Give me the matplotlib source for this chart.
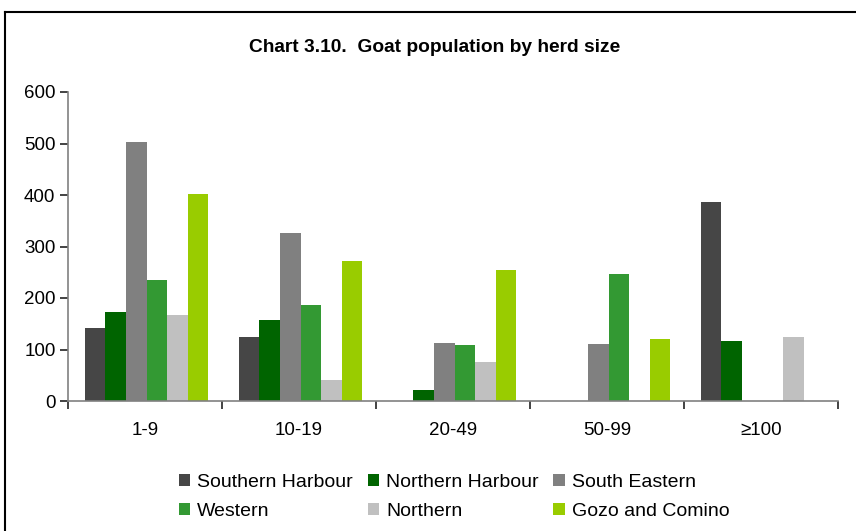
import matplotlib.pyplot as plt
from matplotlib.lines import Line2D
from matplotlib.patches import Patch
import numpy as np

plt.rcParams['font.family'] = ['Liberation Sans', 'DejaVu Sans']

categories = ['1-9', '10-19', '20-49', '50-99', '\u2265100']
regions = ['Southern Harbour', 'Northern Harbour', 'South Eastern',
           'Western', 'Northern', 'Gozo and Comino']
southern_harbour = [141, 124, 0, 0, 386]
northern_harbour = [172, 157, 21, 0, 116]
south_eastern = [503, 326, 112, 110, 0]
western = [235, 186, 108, 246, 0]
northern = [167, 40, 75, 0, 124]
gozo_comino = [402, 272, 254, 120, 0]

series = [southern_harbour, northern_harbour, south_eastern,
          western, northern, gozo_comino]
colors = ['#464646', '#006400', '#808080', '#339933', '#c0c0c0', '#99cc00']

fig = plt.figure(figsize=(8.56, 5.31), dpi=100)
ax = fig.add_axes([68 / 856, 1 - 401 / 531, 770 / 856, 309 / 531])

x = np.arange(len(categories))
w = 0.134
for i, (vals, c) in enumerate(zip(series, colors)):
    ax.bar(x + (i - 2.5) * w + 0.01, vals, width=w, color=c, label=regions[i])

ax.set_xlim(-0.5, len(categories) - 0.5)
ax.set_ylim(0, 600)
ax.set_yticks(range(0, 601, 100))
ax.set_xticks(x)
ax.set_xticklabels(categories)
ax.set_xticks(np.arange(-0.5, len(categories), 1), minor=True)
ax.tick_params(axis='x', which='major', length=0, pad=15, labelsize=13.5)
ax.tick_params(axis='x', which='minor', length=6, width=1.2, color='#222222')
ax.tick_params(axis='y', length=6, width=1.2, color='#222222', labelsize=13.5, pad=3)

for s in ['top', 'right']:
    ax.spines[s].set_visible(False)
for s in ['left', 'bottom']:
    ax.spines[s].set_color('#808080')
    ax.spines[s].set_linewidth(1.2)

fig.text(435 / 856, 1 - 47 / 531, 'Chart 3.10.  Goat population by herd size',
         ha='center', va='center', fontsize=13.8, fontweight='bold')

handles = [Patch(facecolor=c) for c in colors]
order = [0, 3, 1, 4, 2, 5]
fig.legend([handles[i] for i in order], [regions[i] for i in order],
           ncol=3, loc='center', bbox_to_anchor=(454 / 856, 1 - 497 / 531),
           frameon=False, fontsize=14, handlelength=0.6, handleheight=0.6,
           handletextpad=0.35, columnspacing=0.75, labelspacing=0.6)

# outer frame (left and top edges visible)
fig.add_artist(Line2D([5 / 856, 5 / 856], [0, 1 - 12 / 531], color='black', lw=1.5))
fig.add_artist(Line2D([5 / 856, 1], [1 - 12 / 531, 1 - 12 / 531], color='black', lw=1.5))

fig.savefig('out.png', dpi=100)
